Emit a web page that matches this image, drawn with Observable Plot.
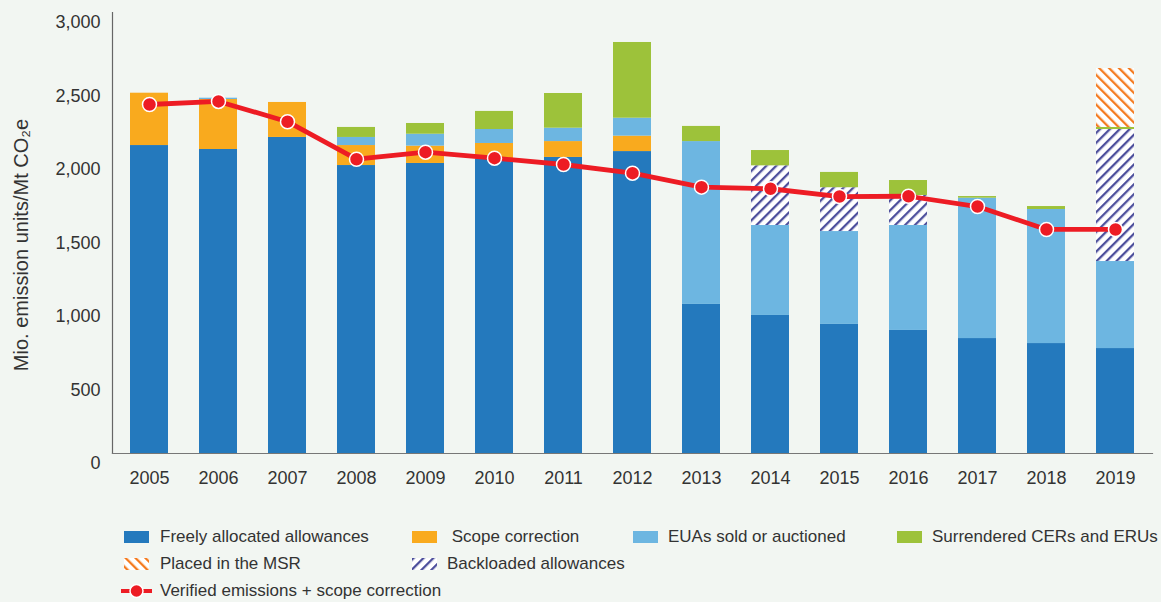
<!DOCTYPE html>
<html>
<head>
<meta charset="utf-8">
<script src="https://cdn.jsdelivr.net/npm/d3@7"></script>
<script src="https://cdn.jsdelivr.net/npm/@observablehq/plot@0.6"></script>
<style>
  html, body { margin: 0; padding: 0; background: #f2f6f2; }
  body { font-family: "Liberation Sans", Arial, Helvetica, sans-serif; color: #333; }
  #wrap { position: relative; width: 1161px; height: 602px; overflow: hidden; }
  #chart { position: absolute; left: 0; top: 0; }
  .lg { position: absolute; font-size: 17px; line-height: 18px; white-space: pre; color: #333; }
  .sw { position: absolute; }
</style>
</head>
<body>
<div id="wrap">
  <div id="chart"></div>
  <div id="legend"></div>
</div>
<script>
// ---- data (Mio. emission units / Mt CO2e) ----
const years = ["2005","2006","2007","2008","2009","2010","2011","2012","2013","2014","2015","2016","2017","2018","2019"];
const freelyAllocated = [2095, 2068, 2150, 1959, 1973, 2000, 2014, 2054, 1014, 939, 878, 837, 782, 748, 714];
const scopeCorrection = [356, 340, 238, 136, 118, 109, 108, 105, 0, 0, 0, 0, 0, 0, 0];
const euasSold        = [0, 9, 0, 55, 81, 95, 91, 122, 1108, 612, 632, 714, 955, 912, 592];
const backloaded      = [0, 0, 0, 0, 0, 0, 0, 0, 0, 406, 298, 204, 0, 0, 898];
const surrendered     = [0, 0, 0, 68, 73, 123, 236, 515, 103, 104, 104, 102, 11, 20, 14];
const placedInMSR     = [0, 0, 0, 0, 0, 0, 0, 0, 0, 0, 0, 0, 0, 0, 401];
const verified        = [2374, 2395, 2257, 2002, 2050, 2009, 1966, 1907, 1812, 1801, 1748, 1750, 1680, 1524, 1524];
const yTicks = [0, 500, 1000, 1500, 2000, 2500, 3000];
const yLabel = "Mio. emission units/Mt CO\u2082e";

const categories = [
  "Freely allocated allowances",
  "Scope correction",
  "EUAs sold or auctioned",
  "Backloaded allowances",
  "Surrendered CERs and ERUs",
  "Placed in the MSR"
];
const series = [freelyAllocated, scopeCorrection, euasSold, backloaded, surrendered, placedInMSR];
const fills = ["#2479bd", "#f9aa1e", "#6db6e1", "url(#hatchBack)", "#9dc23a", "url(#hatchMSR)"];

const stacked = [];
years.forEach((yr, i) => {
  categories.forEach((c, k) => {
    if (series[k][i] > 0) stacked.push({year: yr, category: c, value: series[k][i]});
  });
});
const lineData = years.map((yr, i) => ({year: yr, value: verified[i]}));

function defs() {
  const g = d3.create("svg:defs");
  const mk = (id, color, angle) => {
    const p = g.append("pattern").attr("id", id).attr("patternUnits", "userSpaceOnUse")
      .attr("width", 7).attr("height", 7).attr("patternTransform", `rotate(${angle})`);
    p.append("rect").attr("width", 7).attr("height", 7).attr("fill", "#ffffff");
    p.append("rect").attr("x", 0).attr("y", 0).attr("width", 2.3).attr("height", 7).attr("fill", color);
  };
  mk("hatchBack", "#4d4f9c", 45);
  mk("hatchMSR", "#f47b20", -45);
  return g.node();
}

const chart = Plot.plot({
  width: 1161,
  height: 500,
  marginTop: 12,
  marginBottom: 47,
  marginLeft: 112,
  marginRight: 9,
  style: {background: "transparent", fontFamily: "'Liberation Sans', Arial, sans-serif", color: "#333"},
  x: {type: "band", domain: years, paddingInner: 0.45, paddingOuter: 0.23, label: null},
  y: {domain: [0, 3000], label: null},
  color: {domain: categories, range: fills},
  marks: [
    defs,
    Plot.barY(stacked, {x: "year", y: "value", z: "category", fill: "category", order: categories}),
    Plot.frame({anchor: "left", stroke: "#666", strokeWidth: 1.2}),
    Plot.frame({anchor: "bottom", stroke: "#777", strokeWidth: 1.2}),
    Plot.axisY({ticks: yTicks, tickFormat: d3.format(","), tickSize: 0, tickPadding: 12, dy: 10, fontSize: 18, fill: "#333", label: null}),
    Plot.axisX({tickSize: 0, tickPadding: 18, fontSize: 18, fill: "#333", label: null}),
    Plot.text([yLabel], {text: d => d, frameAnchor: "left", rotate: -90, dx: -91, dy: 12, fontSize: 20, fill: "#333", textAnchor: "middle", lineAnchor: "middle"}),
    Plot.line(lineData, {x: "year", y: "value", stroke: "#ed1c24", strokeWidth: 4.8}),
    Plot.dot(lineData, {x: "year", y: "value", r: 7, fill: "#ed1c24", stroke: "#ffffff", strokeWidth: 1.5})
  ]
});
document.getElementById("chart").appendChild(chart);

// ---- legend ----
const legend = document.getElementById("legend");
const legendItems = [
  {label: "Freely allocated allowances", k: 0, sx: 124, tx: 160, row: 0},
  {label: " Scope correction", k: 1, sx: 412, tx: 447, row: 0},
  {label: "EUAs sold or auctioned", k: 2, sx: 633, tx: 668, row: 0},
  {label: "Surrendered CERs and ERUs", k: 4, sx: 897, tx: 932, row: 0},
  {label: "Placed in the MSR", k: 5, sx: 124, tx: 160, row: 1},
  {label: "Backloaded allowances", k: 3, sx: 412, tx: 447, row: 1}
];
const rowTop = [528, 555, 582];
const svgNS = "http://www.w3.org/2000/svg";
legendItems.forEach(it => {
  const s = document.createElementNS(svgNS, "svg");
  s.setAttribute("class", "sw");
  s.setAttribute("width", 25); s.setAttribute("height", 12);
  s.style.left = it.sx + "px"; s.style.top = (rowTop[it.row] + 3) + "px";
  const f = fills[it.k];
  if (f.startsWith("url")) {
    const isBack = f.includes("Back");
    const col = isBack ? "#4d4f9c" : "#f47b20";
    const id = isBack ? "lgBack" : "lgMSR";
    s.innerHTML = `<defs><pattern id="${id}" patternUnits="userSpaceOnUse" width="7" height="7" patternTransform="rotate(${isBack ? 45 : -45})"><rect width="7" height="7" fill="#fff"/><rect width="2.3" height="7" fill="${col}"/></pattern></defs><rect width="25" height="12" fill="url(#${id})"/>`;
  } else {
    s.innerHTML = `<rect width="25" height="12" fill="${f}"/>`;
  }
  legend.appendChild(s);
  const t = document.createElement("div");
  t.className = "lg";
  t.textContent = it.label;
  t.style.left = it.tx + "px"; t.style.top = rowTop[it.row] + "px";
  legend.appendChild(t);
});
{
  const s = document.createElementNS(svgNS, "svg");
  s.setAttribute("class", "sw");
  s.setAttribute("width", 34); s.setAttribute("height", 18);
  s.style.left = "119px"; s.style.top = rowTop[2] + "px";
  s.innerHTML = `<line x1="2" x2="33" y1="9" y2="9" stroke="#ed1c24" stroke-width="4"/><circle cx="17.5" cy="9" r="6.5" fill="#ed1c24" stroke="#fff" stroke-width="1.5"/>`;
  legend.appendChild(s);
  const t = document.createElement("div");
  t.className = "lg";
  t.textContent = "Verified emissions + scope correction";
  t.style.left = "160px"; t.style.top = rowTop[2] + "px";
  legend.appendChild(t);
}
</script>
</body>
</html>
